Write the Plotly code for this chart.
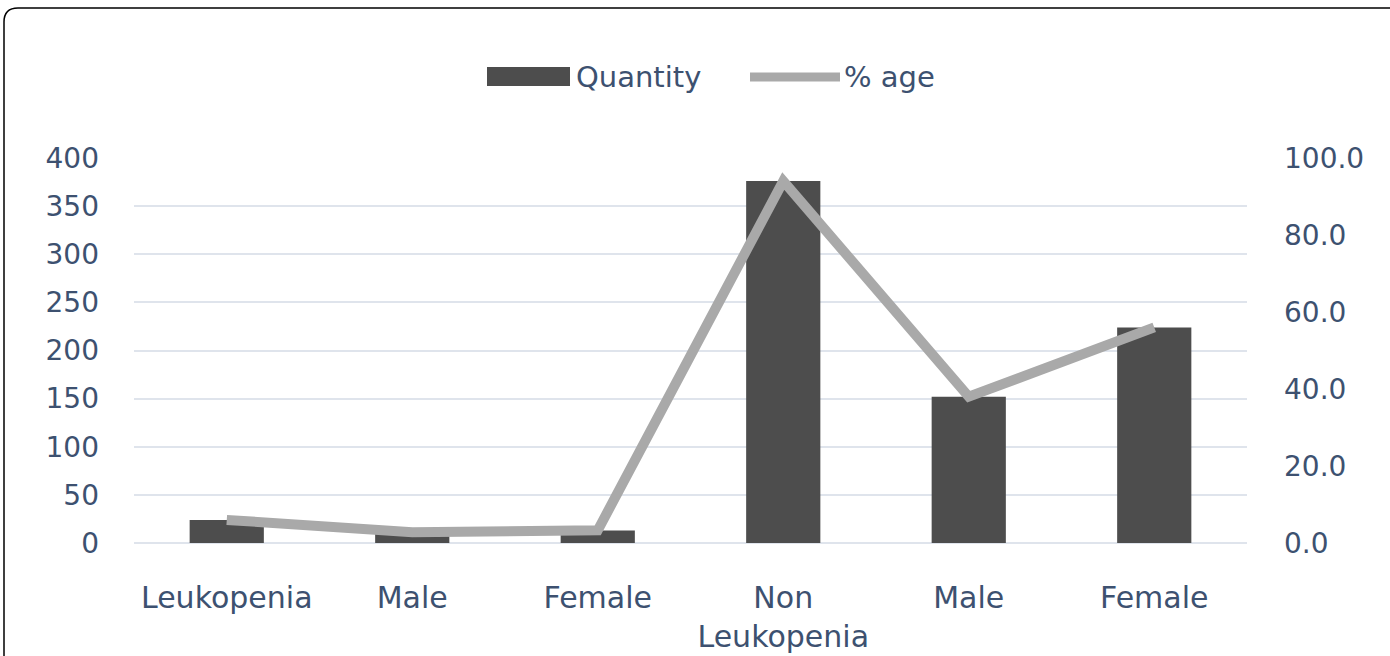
import plotly.graph_objects as go

# Category labels (Male/Female repeat, so positions are indexed)
categories = ["Leukopenia", "Male", "Female", "Non<br>Leukopenia", "Male", "Female"]
quantity = [24, 11, 13, 376, 152, 224]
percent_age = [6.0, 2.8, 3.3, 94.0, 38.0, 56.0]

left_ticks = [0, 50, 100, 150, 200, 250, 300, 350, 400]
right_ticks = [0, 20, 40, 60, 80, 100]

series_names = ["Quantity", "% age"]
bar_color = "#4d4d4d"
line_color = "#a9a9a9"

positions = list(range(len(categories)))

TEXT = "#3d5170"
FONT = "DejaVu Sans"
GRID = "#dfe4ec"

# plot-area geometry in pixels, used to place the hand-built legend and frame
L, R, T, B = 134, 1247, 158, 543
W, H = R - L, B - T


def px(x):
    return (x - L) / W


def py(y):
    return (B - y) / H


fig = go.Figure()
fig.add_trace(go.Bar(
    x=positions, y=quantity, name=series_names[0],
    marker=dict(color=bar_color, line=dict(width=0)),
    width=0.4, showlegend=False,
))
fig.add_trace(go.Scatter(
    x=positions, y=percent_age, name=series_names[1], yaxis="y2",
    mode="lines", line=dict(color=line_color, width=10), showlegend=False,
))

legend_shapes = [
    dict(type="rect", xref="paper", yref="paper",
         x0=px(487), x1=px(570), y0=py(86), y1=py(67),
         fillcolor=bar_color, line=dict(width=0)),
    dict(type="line", xref="paper", yref="paper",
         x0=px(750), x1=px(840), y0=py(77), y1=py(77),
         line=dict(color=line_color, width=9)),
]
legend_labels = [
    dict(text=series_names[0], xref="paper", yref="paper", x=px(574), y=py(77),
         xanchor="left", yanchor="middle", showarrow=False,
         font=dict(family=FONT, size=29, color=TEXT)),
    dict(text=series_names[1], xref="paper", yref="paper", x=px(842), y=py(77),
         xanchor="left", yanchor="middle", showarrow=False,
         font=dict(family=FONT, size=29, color=TEXT)),
]

frame = dict(
    type="path", xref="paper", yref="paper",
    path=(
        f"M {px(4)} {py(700)} "
        f"L {px(4)} {py(22)} "
        f"Q {px(4)} {py(8)} {px(18)} {py(8)} "
        f"L {px(1400)} {py(8)}"
    ),
    line=dict(color="black", width=1.5),
)

fig.update_layout(
    width=1390, height=656,
    margin=dict(l=L, r=1390 - R, t=T, b=656 - B, autoexpand=False),
    paper_bgcolor="white", plot_bgcolor="white",
    font=dict(family=FONT, size=28, color=TEXT),
    showlegend=False,
    xaxis=dict(
        range=[-0.5, 5.5], tickmode="array", tickvals=positions, ticktext=categories,
        showgrid=False, showline=False, zeroline=False, ticks="",
        ticklabelstandoff=34, tickfont=dict(size=30), automargin=False,
    ),
    yaxis=dict(
        range=[0, 400], tickmode="array", tickvals=left_ticks,
        showgrid=True, gridcolor=GRID, gridwidth=1.5,
        zeroline=True, zerolinecolor=GRID, zerolinewidth=1.5,
        showline=False, ticks="", ticklabelstandoff=34, tickfont=dict(size=28),
        automargin=False,
    ),
    yaxis2=dict(
        range=[0, 100], tickmode="array", tickvals=right_ticks,
        tickformat=".1f", overlaying="y", side="right",
        showgrid=False, zeroline=False, showline=False, ticks="",
        ticklabelstandoff=36, tickfont=dict(size=28), automargin=False,
    ),
    shapes=legend_shapes + [frame],
    annotations=legend_labels,
)

fig.write_html("out.html")
